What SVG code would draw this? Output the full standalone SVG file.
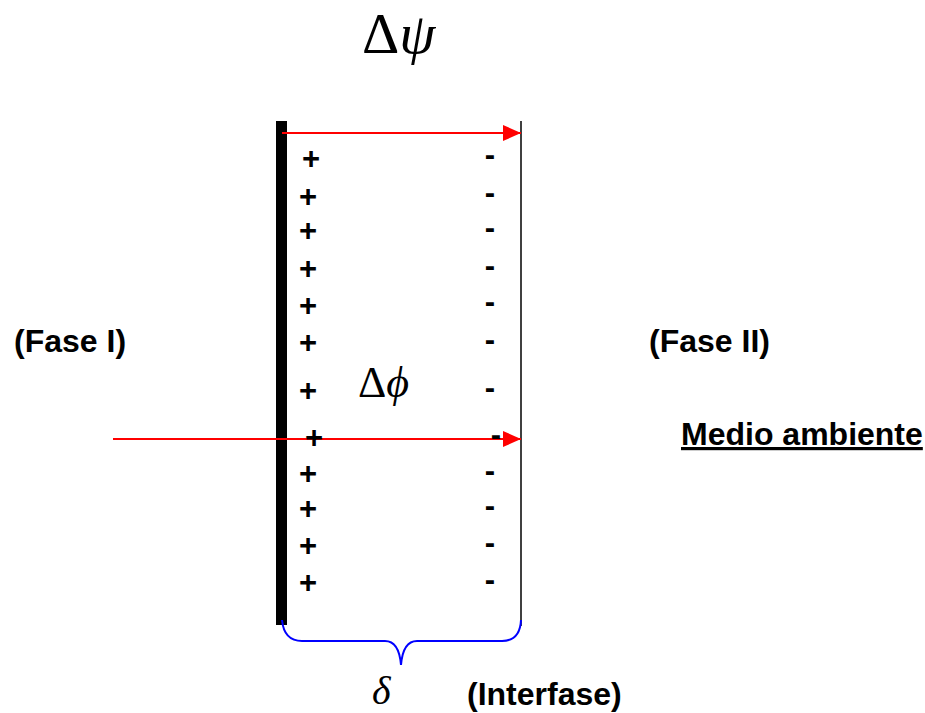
<svg xmlns="http://www.w3.org/2000/svg" width="925" height="713" viewBox="0 0 925 713">
<defs>
<style>
.lbl{font-family:"Liberation Sans",Arial,sans-serif;font-weight:bold;font-size:32px;fill:#000}
.pm{font-family:"Liberation Sans",Arial,sans-serif;font-weight:bold;font-size:31px;fill:#000;text-anchor:middle}
.sym{font-family:"Liberation Serif","Times New Roman",serif;fill:#000}
.arr{stroke:#ff0000;stroke-width:2;fill:none}
</style>
<marker id="ah" markerWidth="18" markerHeight="16" refX="18" refY="8" orient="auto" markerUnits="userSpaceOnUse">
<path d="M0,0 L18,8 L0,16 Z" fill="#ff0000"/>
</marker>
</defs>
<rect width="925" height="713" fill="#fff"/>
<g id="membrane">
<rect x="276" y="121" width="11" height="504" fill="#000"/>
<line x1="521" y1="121" x2="521" y2="626" stroke="#000" stroke-width="1.5"/>
</g>
<g id="brace">
<path d="M282,620 Q284,641 302,641 L385,641 Q399,641 401,665 Q403,641 417,641 L502,641 Q520,641 521,620" stroke="#0000ff" stroke-width="2" fill="none"/>
</g>
<g id="connectors">
<line class="arr" x1="282" y1="133" x2="521" y2="133" marker-end="url(#ah)"/>
<line class="arr" x1="113" y1="439" x2="521" y2="439" marker-end="url(#ah)"/>
</g>
<g id="plus">
<text class="pm" x="311" y="169">+</text>
<text class="pm" x="308" y="207">+</text>
<text class="pm" x="308" y="241">+</text>
<text class="pm" x="308" y="279">+</text>
<text class="pm" x="308" y="316">+</text>
<text class="pm" x="308" y="353">+</text>
<text class="pm" x="308" y="401">+</text>
<text class="pm" x="314" y="448">+</text>
<text class="pm" x="308" y="484">+</text>
<text class="pm" x="308" y="519">+</text>
<text class="pm" x="308" y="556">+</text>
<text class="pm" x="308" y="593">+</text>
</g>
<g id="minus">
<text class="pm" x="490" y="165">-</text>
<text class="pm" x="490" y="203">-</text>
<text class="pm" x="490" y="238">-</text>
<text class="pm" x="490" y="276">-</text>
<text class="pm" x="490" y="312">-</text>
<text class="pm" x="490" y="350">-</text>
<text class="pm" x="490" y="398">-</text>
<text class="pm" x="496" y="445">-</text>
<text class="pm" x="490" y="481">-</text>
<text class="pm" x="490" y="516">-</text>
<text class="pm" x="490" y="553">-</text>
<text class="pm" x="490" y="590">-</text>
</g>
<g id="delta-psi"><text class="sym" x="362" y="53" font-size="58">Δ<tspan font-style="italic">ψ</tspan></text></g>
<g id="delta-phi"><text class="sym" x="358" y="397" font-size="44">Δ<tspan font-style="italic">ϕ</tspan></text></g>
<g id="delta"><text class="sym" x="372" y="704" font-size="40" font-style="italic">δ</text></g>
<g id="fase1"><text class="lbl" x="14" y="352">(Fase I)</text></g>
<g id="fase2"><text class="lbl" x="649" y="352">(Fase II)</text></g>
<g id="medio"><text class="lbl" x="681" y="445" text-decoration="underline">Medio ambiente</text></g>
<g id="interfase"><text class="lbl" x="467" y="705">(Interfase)</text></g>
</svg>
